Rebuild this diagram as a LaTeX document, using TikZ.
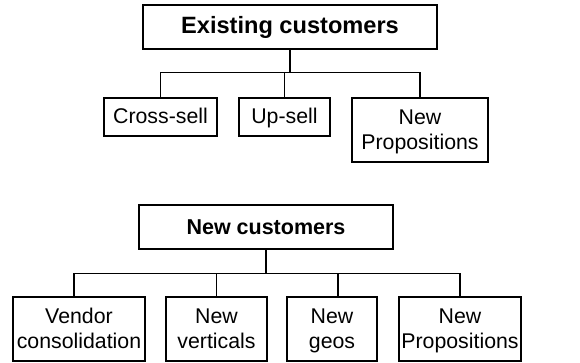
\documentclass[tikz,border=0pt]{standalone}
\usepackage{fontspec}
\setmainfont{Liberation Sans}
\usetikzlibrary{positioning}

\begin{document}
\begin{tikzpicture}[x=1pt,y=1pt,line width=1.1pt,
			every node/.style={draw,align=center,inner sep=0pt,line width=1.1pt},
			head/.style={font=\bfseries\fontsize{21.5}{25}\selectfont,minimum height=44pt},
			leaf/.style={font=\fontsize{21.3}{25}\selectfont,text height=16.5pt,text depth=3.5pt,minimum height=38pt},
			twoline/.style={leaf,text height=41.5pt,minimum height=64pt}]
			\useasboundingbox (0,0) rectangle (580,-362);
			% existing customers
			\node[head,font=\bfseries\fontsize{23.6}{27}\selectfont,minimum width=294pt](existing) at (290,-27) {Existing customers};
			\node[leaf,minimum width=113pt](crosssell) at (160.5,-117) {Cross-sell};
			\node[leaf,minimum width=91pt](upsell) at (284.5,-117) {Up-sell};
			\node[twoline,minimum width=136pt](newprop) at (420,-130) {New\\Propositions};
			\draw (existing.south) -- ++(0,-23) coordinate (split);
			\foreach \n in {crosssell,upsell,newprop}
				\draw (split) -| (\n.north);
			% new customers
			\node[head,minimum width=254pt](newcust) at (266,-227) {New customers};
			\node[twoline,minimum width=132pt](vendor) at (79,-329) {Vendor\\consolidation};
			\node[twoline,minimum width=101pt](verticals) at (216.5,-329) {New\\verticals};
			\node[twoline,minimum width=90pt](geos) at (332,-329) {New\\geos};
			\node[twoline,minimum width=122pt](newprops) at (460,-329) {New\\Propositions};
			\draw (newcust.south) -- ++(0,-24) coordinate (split2);
			\draw (split2) -| ([xshift=-5pt]vendor.north);
			\draw (split2) -| (verticals.north);
			\draw (split2) -| ([xshift=6pt]geos.north);
			\draw (split2) -| (newprops.north);
		\end{tikzpicture}
\end{document}
